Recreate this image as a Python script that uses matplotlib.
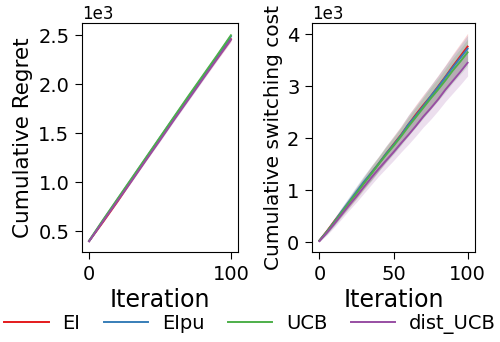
import numpy as np
import matplotlib.pyplot as plt

# left panel: cumulative regret, sampled every 10 iterations
iters_regret = [0, 10, 20, 30, 40, 50, 60, 70, 80, 90, 100]
regret_EI = [400, 600, 805, 1020, 1230, 1440, 1650, 1855, 2060, 2260, 2460]
regret_EIpu = [400, 615, 825, 1035, 1245, 1455, 1665, 1870, 2075, 2280, 2490]
regret_UCB = [405, 620, 830, 1040, 1250, 1460, 1670, 1880, 2085, 2290, 2500]
regret_dist = [400, 605, 810, 1015, 1225, 1430, 1640, 1845, 2050, 2255, 2455]
regret_std = [5, 8, 10, 12, 13, 14, 15, 16, 17, 18, 20]

# right panel: cumulative switching cost, sampled every 5 iterations
iters_switch = [0, 5, 10, 15, 20, 25, 30, 35, 40, 45, 50,
                55, 60, 65, 70, 75, 80, 85, 90, 95, 100]
switch_EI = [30, 210, 400, 580, 760, 950, 1140, 1330, 1510, 1700, 1880,
             2060, 2260, 2450, 2630, 2800, 2990, 3180, 3380, 3570, 3760]
switch_EIpu = [30, 200, 390, 590, 780, 970, 1160, 1330, 1510, 1700, 1870,
               2050, 2260, 2430, 2610, 2800, 2980, 3170, 3360, 3540, 3720]
switch_UCB = [30, 200, 380, 570, 760, 940, 1130, 1310, 1500, 1680, 1850,
              2030, 2220, 2400, 2580, 2760, 2930, 3110, 3300, 3470, 3650]
switch_dist = [20, 180, 350, 530, 710, 880, 1060, 1240, 1410, 1570, 1730,
               1900, 2060, 2230, 2410, 2570, 2740, 2930, 3100, 3270, 3450]
switch_std = [10, 45, 65, 80, 95, 110, 120, 135, 140, 150, 160,
              170, 180, 190, 200, 210, 215, 225, 235, 245, 255]

labels = ["EI", "EIpu", "UCB", "dist_UCB"]
colors = ["#e41a1c", "#377eb8", "#4daf4a", "#984ea3"]

fig = plt.figure(figsize=(5, 3.42), dpi=100)
axL = fig.add_axes([0.164, 0.263, 0.312, 0.670])
axR = fig.add_axes([0.624, 0.263, 0.326, 0.670])

for y, c, lab in zip([regret_EI, regret_EIpu, regret_UCB, regret_dist], colors, labels):
  y = np.array(y)
  s = np.array(regret_std)
  axL.plot(iters_regret, y, color=c, lw=1.4, label=lab)
  axL.fill_between(iters_regret, y - s, y + s, color=c, alpha=0.2, lw=0)

for y, c in zip([switch_EI, switch_EIpu, switch_UCB, switch_dist], colors):
  y = np.array(y)
  s = np.array(switch_std)
  axR.plot(iters_switch, y, color=c, lw=1.4)
  axR.fill_between(iters_switch, y - s, y + s, color=c, alpha=0.18, lw=0)

for ax in (axL, axR):
  ax.ticklabel_format(axis='y', style='sci', scilimits=(3, 3))
  ax.yaxis.get_offset_text().set_fontsize(12)
  ax.tick_params(labelsize=14, length=5, pad=4)
  ax.set_xlabel("Iteration", fontsize=17, labelpad=3)

axL.set_xticks([0, 100])
axL.set_yticks([500, 1000, 1500, 2000, 2500])
axL.set_ylabel("Cumulative Regret", fontsize=15.5, labelpad=4)
axR.set_xticks([0, 50, 100])
axR.set_yticks([0, 1000, 2000, 3000, 4000])
axR.set_ylabel("Cumulative switching cost", fontsize=14.5, labelpad=3)

handles, labs = axL.get_legend_handles_labels()
fig.legend(handles, labs, loc='lower center', ncol=4, frameon=False,
           bbox_to_anchor=(0.5, -0.01), fontsize=14, handlelength=2.3,
           handletextpad=0.7, columnspacing=1.2, borderaxespad=0.2)

plt.savefig("out.png", dpi=100)
